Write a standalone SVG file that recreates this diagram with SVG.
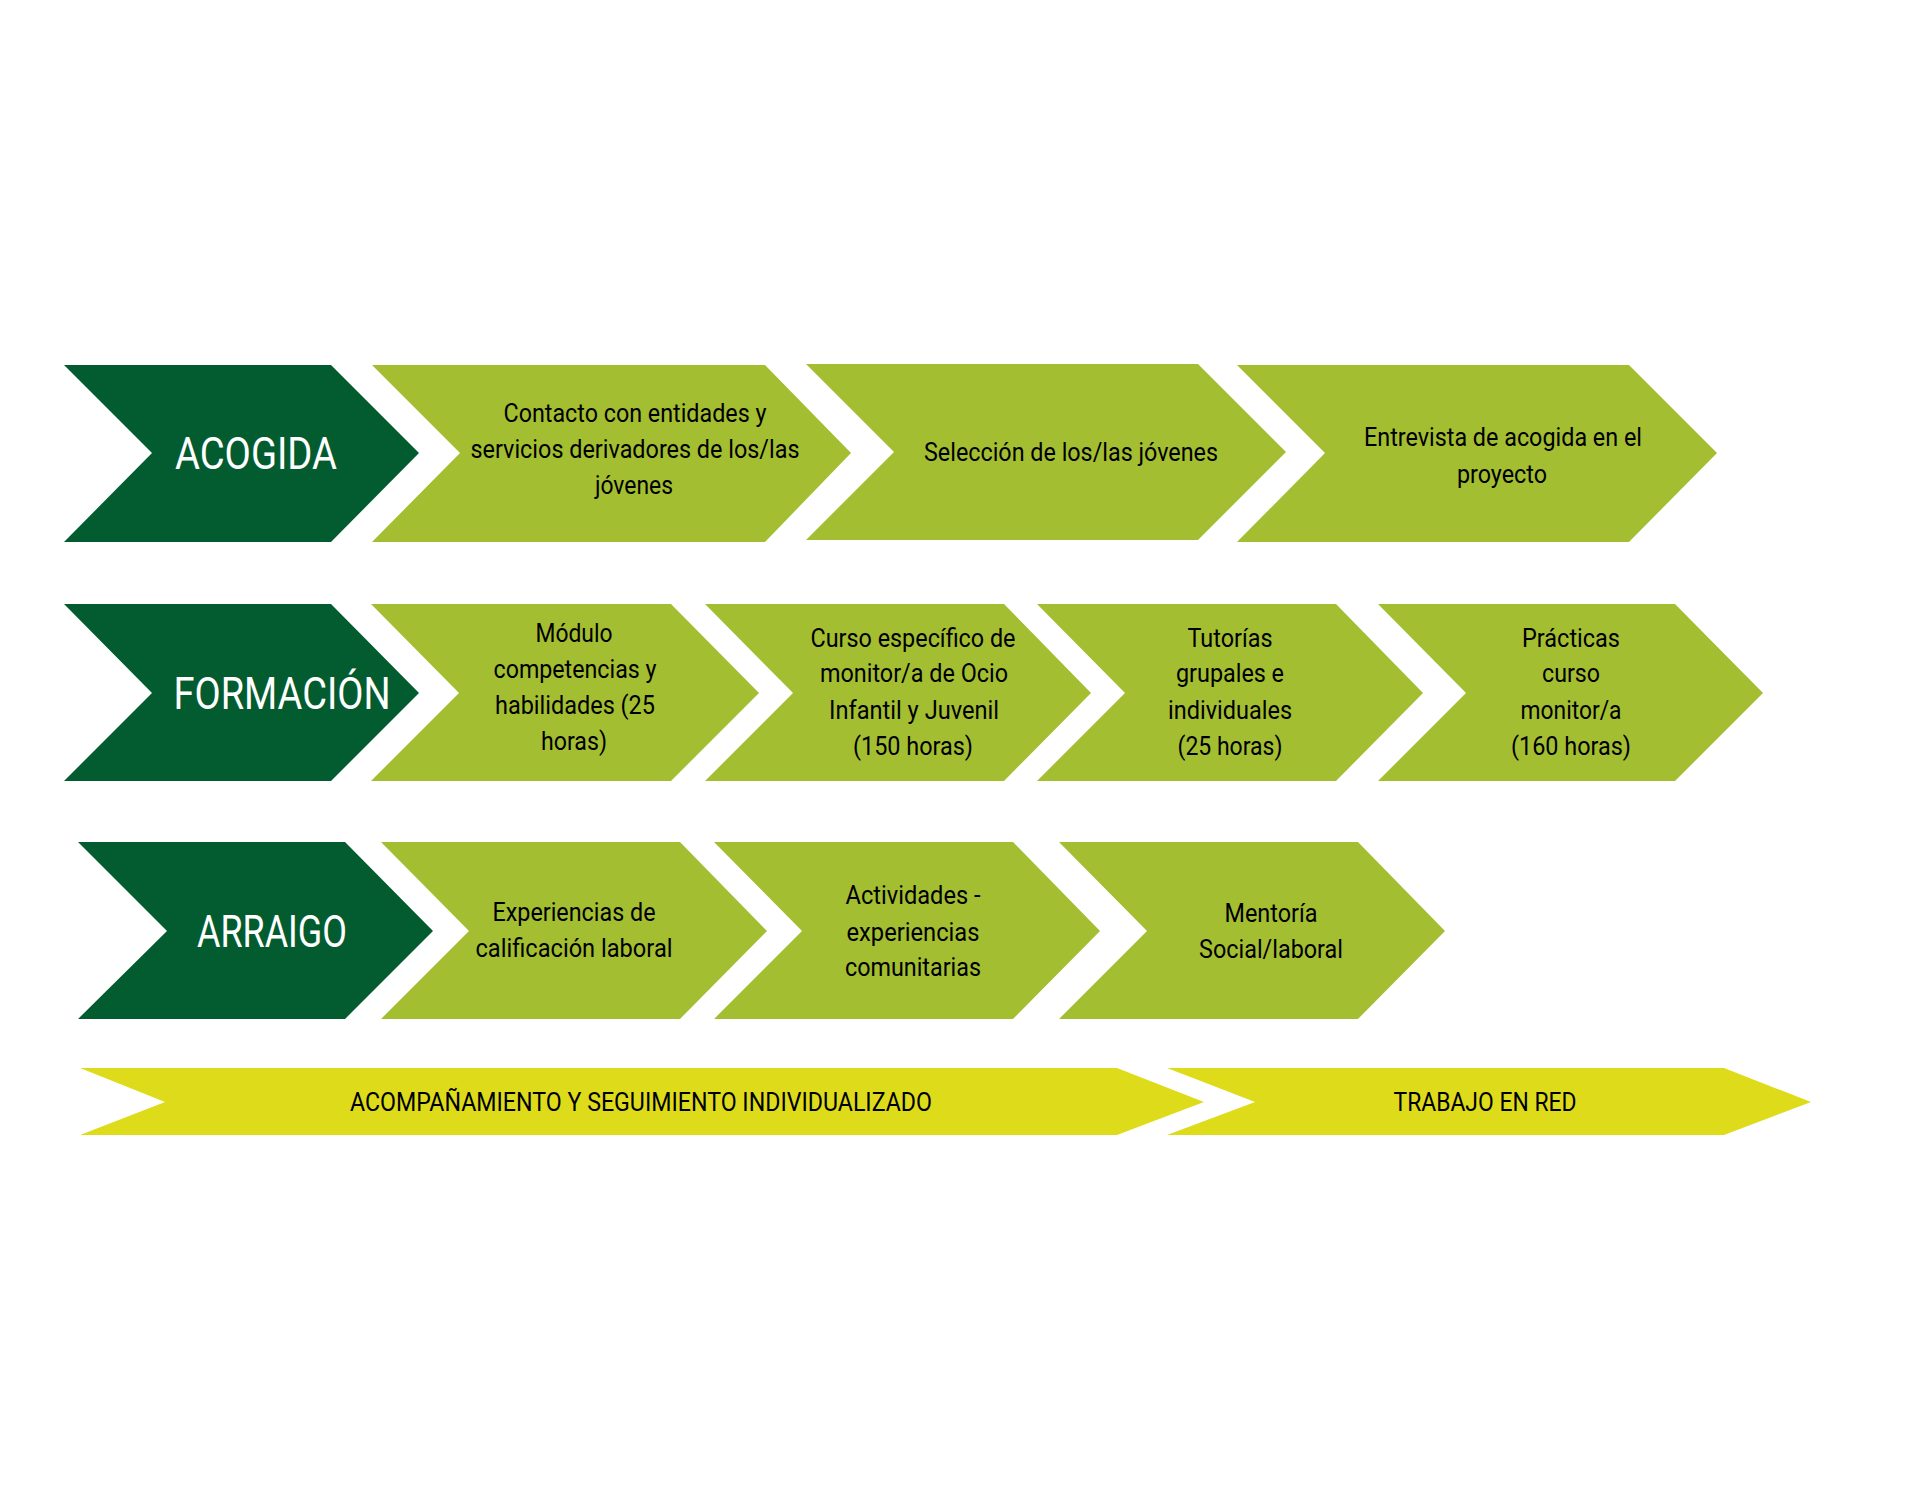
<svg xmlns="http://www.w3.org/2000/svg" width="1920" height="1500" viewBox="0 0 1920 1500">
<style>
.dark{fill:#025C2F}
.light{fill:#A4BE32}
.yel{fill:#DEDC1A}
text{font-family:Roboto,"Liberation Sans",sans-serif;text-anchor:middle}
.h{font-size:45px;fill:#FFFFFF}
.b{font-size:26px;fill:#000000}
.y{font-size:25px;fill:#000000}
</style>
<rect width="1920" height="1500" fill="#FFFFFF"/>
<g id="acogida">
<polygon class="dark" points="64,365 331,365 419,453 331,542 64,542 152,453"/>
<text class="h" x="256" y="469" textLength="162" lengthAdjust="spacingAndGlyphs">ACOGIDA</text>
</g>
<g id="contacto">
<polygon class="light" points="372,365 765,365 851,453 765,542 372,542 460,453"/>
<text class="b" x="635" y="422" textLength="263" lengthAdjust="spacingAndGlyphs">Contacto con entidades y</text>
<text class="b" x="635" y="458" textLength="329" lengthAdjust="spacingAndGlyphs">servicios derivadores de los/las</text>
<text class="b" x="634" y="494" textLength="78" lengthAdjust="spacingAndGlyphs">jóvenes</text>
</g>
<g id="seleccion">
<polygon class="light" points="806,364 1198,364 1286,452 1198,540 806,540 894,452"/>
<text class="b" x="1071" y="461" textLength="294" lengthAdjust="spacingAndGlyphs">Selección de los/las jóvenes</text>
</g>
<g id="entrevista">
<polygon class="light" points="1237,365 1629,365 1717,453 1629,542 1237,542 1325,453"/>
<text class="b" x="1503" y="446" textLength="278" lengthAdjust="spacingAndGlyphs">Entrevista de acogida en el</text>
<text class="b" x="1502" y="483" textLength="90" lengthAdjust="spacingAndGlyphs">proyecto</text>
</g>
<g id="formacion">
<polygon class="dark" points="64,604 331,604 419,693 331,781 64,781 152,693"/>
<text class="h" x="282" y="709" textLength="217" lengthAdjust="spacingAndGlyphs">FORMACIÓN</text>
</g>
<g id="modulo">
<polygon class="light" points="371,604 671,604 759,693 671,781 371,781 459,693"/>
<text class="b" x="574" y="642" textLength="77" lengthAdjust="spacingAndGlyphs">Módulo</text>
<text class="b" x="575" y="678" textLength="163" lengthAdjust="spacingAndGlyphs">competencias y</text>
<text class="b" x="575" y="714" textLength="160" lengthAdjust="spacingAndGlyphs">habilidades (25</text>
<text class="b" x="574" y="750" textLength="66" lengthAdjust="spacingAndGlyphs">horas)</text>
</g>
<g id="curso">
<polygon class="light" points="705,604 1004,604 1091,693 1004,781 705,781 793,693"/>
<text class="b" x="913" y="647" textLength="205" lengthAdjust="spacingAndGlyphs">Curso específico de</text>
<text class="b" x="914" y="682" textLength="188" lengthAdjust="spacingAndGlyphs">monitor/a de Ocio</text>
<text class="b" x="914" y="719" textLength="170" lengthAdjust="spacingAndGlyphs">Infantil y Juvenil</text>
<text class="b" x="913" y="755" textLength="120" lengthAdjust="spacingAndGlyphs">(150 horas)</text>
</g>
<g id="tutorias">
<polygon class="light" points="1037,604 1336,604 1423,693 1336,781 1037,781 1125,693"/>
<text class="b" x="1230" y="647" textLength="85" lengthAdjust="spacingAndGlyphs">Tutorías</text>
<text class="b" x="1230" y="682" textLength="108" lengthAdjust="spacingAndGlyphs">grupales e</text>
<text class="b" x="1230" y="719" textLength="124" lengthAdjust="spacingAndGlyphs">individuales</text>
<text class="b" x="1230" y="755" textLength="105" lengthAdjust="spacingAndGlyphs">(25 horas)</text>
</g>
<g id="practicas">
<polygon class="light" points="1378,604 1675,604 1763,693 1675,781 1378,781 1466,693"/>
<text class="b" x="1571" y="647" textLength="98" lengthAdjust="spacingAndGlyphs">Prácticas</text>
<text class="b" x="1571" y="682" textLength="58" lengthAdjust="spacingAndGlyphs">curso</text>
<text class="b" x="1571" y="719" textLength="101" lengthAdjust="spacingAndGlyphs">monitor/a</text>
<text class="b" x="1571" y="755" textLength="120" lengthAdjust="spacingAndGlyphs">(160 horas)</text>
</g>
<g id="arraigo">
<polygon class="dark" points="78,842 345,842 433,931 345,1019 78,1019 167,931"/>
<text class="h" x="272" y="947" textLength="150" lengthAdjust="spacingAndGlyphs">ARRAIGO</text>
</g>
<g id="experiencias">
<polygon class="light" points="381,842 680,842 767,931 680,1019 381,1019 469,931"/>
<text class="b" x="574" y="921" textLength="163" lengthAdjust="spacingAndGlyphs">Experiencias de</text>
<text class="b" x="574" y="957" textLength="197" lengthAdjust="spacingAndGlyphs">calificación laboral</text>
</g>
<g id="actividades">
<polygon class="light" points="714,842 1013,842 1100,931 1013,1019 714,1019 802,931"/>
<text class="b" x="913" y="904" textLength="135" lengthAdjust="spacingAndGlyphs">Actividades -</text>
<text class="b" x="913" y="941" textLength="133" lengthAdjust="spacingAndGlyphs">experiencias</text>
<text class="b" x="913" y="976" textLength="136" lengthAdjust="spacingAndGlyphs">comunitarias</text>
</g>
<g id="mentoria">
<polygon class="light" points="1059,842 1358,842 1445,931 1358,1019 1059,1019 1147,931"/>
<text class="b" x="1271" y="922" textLength="93" lengthAdjust="spacingAndGlyphs">Mentoría</text>
<text class="b" x="1271" y="958" textLength="144" lengthAdjust="spacingAndGlyphs">Social/laboral</text>
</g>
<g id="acompanamiento">
<polygon class="yel" points="80,1068 1117,1068 1204,1102 1117,1135 80,1135 165,1102"/>
<text class="y" x="641" y="1111" textLength="582" lengthAdjust="spacingAndGlyphs">ACOMPAÑAMIENTO Y SEGUIMIENTO INDIVIDUALIZADO</text>
</g>
<g id="trabajo">
<polygon class="yel" points="1167,1068 1724,1068 1811,1102 1724,1135 1167,1135 1255,1102"/>
<text class="y" x="1485" y="1111" textLength="183" lengthAdjust="spacingAndGlyphs">TRABAJO EN RED</text>
</g>
<g id="connectors"/>
</svg>
